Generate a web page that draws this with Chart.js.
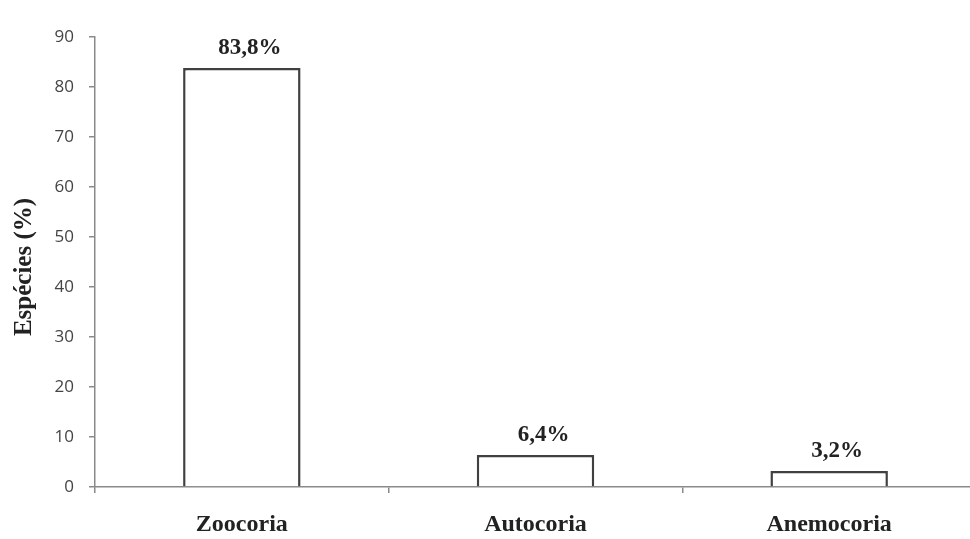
<!DOCTYPE html>
<html>
<head>
<meta charset="utf-8">
<script src="https://cdn.jsdelivr.net/npm/chart.js@4/dist/chart.umd.min.js"></script>
<style>
  html, body { margin: 0; padding: 0; background: #fff; overflow: hidden; }
  #wrap { position: absolute; left: 0; top: 0; width: 976px; height: 539px; }
</style>
</head>
<body>
<div id="wrap"><canvas id="chart"></canvas></div>
<script>
// Dispersal syndromes of the sampled species
const categories = ['Zoocoria', 'Autocoria', 'Anemocoria'];
const speciesPct = [83.8, 6.4, 3.2];
const yTicks = [0, 10, 20, 30, 40, 50, 60, 70, 80, 90];
const yTitle = 'Espécies (%)';

const serifBold = '"Liberation Serif", "Times New Roman", serif';
const axisGray = '#8a8a8a';

function pctLabel(v) {
  return v.toFixed(1).replace('.', ',') + '%';
}

// Value labels above each bar and the rotated y-axis title
const annotate = {
  id: 'annotate',
  afterDatasetsDraw(chart) {
    const ctx = chart.ctx;
    const meta = chart.getDatasetMeta(0);
    ctx.save();
    ctx.fillStyle = '#222';
    ctx.font = 'bold 23px ' + serifBold;
    ctx.textAlign = 'center';
    ctx.textBaseline = 'alphabetic';
    meta.data.forEach((bar, i) => {
      ctx.fillText(pctLabel(speciesPct[i]), bar.x + 8, bar.y - 14);
    });
    ctx.restore();

    ctx.save();
    ctx.fillStyle = '#222';
    ctx.font = 'bold 25px ' + serifBold;
    ctx.textAlign = 'center';
    ctx.textBaseline = 'alphabetic';
    ctx.translate(31, 267);
    ctx.rotate(-Math.PI / 2);
    ctx.fillText(yTitle, 0, 0);
    ctx.restore();
  }
};

new Chart(document.getElementById('chart'), {
  type: 'bar',
  data: {
    labels: categories,
    datasets: [{
      data: speciesPct,
      backgroundColor: '#ffffff',
      borderColor: '#404040',
      borderWidth: 2.5,
      borderSkipped: 'bottom',
      barPercentage: 0.4,
      categoryPercentage: 1.0
    }]
  },
  options: {
    responsive: true,
    maintainAspectRatio: false,
    animation: false,
    layout: { padding: { top: 37, left: 0, right: 0, bottom: 0 } },
    plugins: {
      legend: { display: false },
      tooltip: { enabled: false }
    },
    scales: {
      x: {
        grid: {
          offset: true,
          drawOnChartArea: false,
          drawTicks: true,
          tickLength: 6,
          color: axisGray,
          lineWidth: 1.5
        },
        border: { color: axisGray, width: 1.5 },
        ticks: {
          color: '#222',
          font: { family: serifBold, size: 24, weight: 'bold' },
          padding: 17,
          maxRotation: 0
        },
        afterFit(scale) { scale.height = 52; }
      },
      y: {
        min: 0,
        max: 90,
        afterBuildTicks(scale) {
          scale.ticks = yTicks.map(v => ({ value: v }));
        },
        grid: {
          drawOnChartArea: false,
          drawTicks: true,
          tickLength: 6,
          color: axisGray,
          lineWidth: 1.5
        },
        border: { color: axisGray, width: 1.5 },
        ticks: {
          color: '#444',
          font: { family: '"Open Sans", "DejaVu Sans", sans-serif', size: 17 },
          padding: 15
        },
        afterFit(scale) { scale.width = 95; }
      }
    }
  },
  plugins: [annotate]
});
</script>
</body>
</html>
